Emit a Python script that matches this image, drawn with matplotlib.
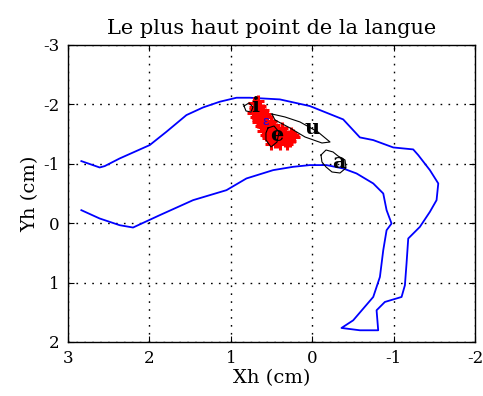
import matplotlib
matplotlib.use("Agg")
import matplotlib.pyplot as plt

plt.rcParams['font.family'] = ['DejaVu Serif']
plt.rcParams['axes.unicode_minus'] = False

# Vocal tract outline (cm)
outline_x = [2.836, 2.611, 2.549, 2.365, 1.996, 1.791, 1.545, 1.340, 1.135, 0.930, 0.767, 0.398,
             0.029, -0.381, -0.586, -0.750, -0.996, -1.241, -1.303, -1.446, -1.549, -1.528,
             -1.446, -1.323, -1.180, -1.159, -1.139, -1.098, -0.893, -0.791, -0.811, -0.586,
             -0.360, -0.504, -0.750, -0.832, -0.873, -0.914, -0.975, -0.914, -0.873, -0.750,
             -0.545, -0.381, -0.176, 0.029, 0.234, 0.480, 0.808, 1.053, 1.463, 1.873, 2.201,
             2.365, 2.611, 2.836]
outline_y = [-1.045, -0.938, -0.961, -1.090, -1.315, -1.539, -1.820, -1.949, -2.045, -2.112, -2.112,
             -2.084, -1.972, -1.747, -1.444, -1.399, -1.275, -1.242, -1.146, -0.893, -0.669,
             -0.388, -0.191, 0.062, 0.258, 0.680, 1.045, 1.242, 1.326, 1.466, 1.803, 1.803,
             1.764, 1.635, 1.242, 0.905, 0.455, 0.118, 0.006, -0.219, -0.500, -0.669, -0.837,
             -0.921, -0.978, -0.978, -0.949, -0.893, -0.753, -0.556, -0.388, -0.135, 0.073,
             0.034, -0.079, -0.219]

# Red measurement points (highest tongue point)
red_x = [0.72, 0.66, 0.70, 0.64, 0.68, 0.61, 0.73, 0.65, 0.58, 0.69, 0.62, 0.55, 0.66, 0.58,
         0.51, 0.63, 0.55, 0.47, 0.60, 0.52, 0.44, 0.37, 0.57, 0.49, 0.41, 0.33, 0.26, 0.54,
         0.46, 0.38, 0.30, 0.22, 0.42, 0.34, 0.27, 0.46, 0.39, 0.50, 0.31, 0.70, 0.67, 0.62,
         0.59, 0.53, 0.48, 0.43, 0.36, 0.29, 0.24]
red_y = [-2.02, -2.05, -1.95, -1.97, -1.88, -1.90, -1.85, -1.82, -1.84, -1.78, -1.76, -1.78,
         -1.70, -1.70, -1.72, -1.63, -1.64, -1.66, -1.56, -1.57, -1.59, -1.60, -1.49, -1.50,
         -1.52, -1.54, -1.52, -1.43, -1.43, -1.44, -1.46, -1.45, -1.37, -1.38, -1.39, -1.36,
         -1.33, -1.33, -1.33, -1.92, -1.74, -1.67, -1.62, -1.53, -1.47, -1.41, -1.50, -1.41,
         -1.49]

# Vowel labels
vowels = ['i', 'u', 'e', 'a']
vowel_x = [0.70, 0.00, 0.43, -0.33]
vowel_y = [-1.98, -1.60, -1.48, -1.03]

# Vowel region outlines
reg_i_x = [0.838, 0.776, 0.727, 0.752, 0.813, 0.838]
reg_i_y = [-1.973, -2.024, -1.956, -1.872, -1.889, -1.973]
reg_u_x = [0.494, 0.334, 0.150, -0.071, -0.219, -0.120, 0.088, 0.273, 0.457, 0.494]
reg_u_y = [-1.838, -1.788, -1.704, -1.535, -1.367, -1.350, -1.451, -1.603, -1.737, -1.838]
reg_e_x = [0.543, 0.469, 0.408, 0.432, 0.506, 0.568, 0.568, 0.543]
reg_e_y = [-1.603, -1.636, -1.535, -1.367, -1.283, -1.401, -1.519, -1.603]
reg_a_x = [-0.108, -0.170, -0.256, -0.317, -0.403, -0.415, -0.342, -0.243, -0.170, -0.120, -0.108]
reg_a_y = [-1.148, -1.232, -1.199, -1.131, -1.064, -0.929, -0.845, -0.862, -0.946, -1.030, -1.148]

fig = plt.figure(figsize=(4.83, 3.96), dpi=100)
ax = fig.add_axes([0.1408, 0.1364, 0.8426, 0.75])

ax.plot(outline_x, outline_y, color='#0000ff', lw=1.3, zorder=3)
ax.plot(red_x, red_y, linestyle='none', marker='+', color='#ff0000',
        markersize=8, mew=2.2, zorder=4)
for rx, ry in [(reg_i_x, reg_i_y), (reg_u_x, reg_u_y), (reg_e_x, reg_e_y), (reg_a_x, reg_a_y)]:
    ax.plot(rx, ry, color='black', lw=0.8, zorder=5)
ax.text(0.57, -1.72, 'ɛ', color='#0000ff', fontsize=9, ha='center', va='center', zorder=6)
for v, vx, vy in zip(vowels, vowel_x, vowel_y):
    ax.text(vx, vy, v, fontsize=15, fontweight='heavy', ha='center', va='center',
            color='black', zorder=7)

ax.set_xlim(3, -2)
ax.set_ylim(2, -3)
ax.set_xticks([3, 2, 1, 0, -1, -2])
ax.set_yticks([-3, -2, -1, 0, 1, 2])
ax.grid(True, color='black', linestyle=(0, (1.2, 4.5)), lw=1.0)
ax.tick_params(direction='in', top=True, right=True, length=4, labelsize=12, pad=6)
for s in ax.spines.values():
    s.set_linewidth(1.0)
ax.set_title('Le plus haut point de la langue', fontsize=15, pad=8)
ax.set_xlabel('Xh (cm)', fontsize=14, labelpad=1)
ax.set_ylabel('Yh (cm)', fontsize=14, labelpad=3)

fig.savefig('out.png', dpi=100)
